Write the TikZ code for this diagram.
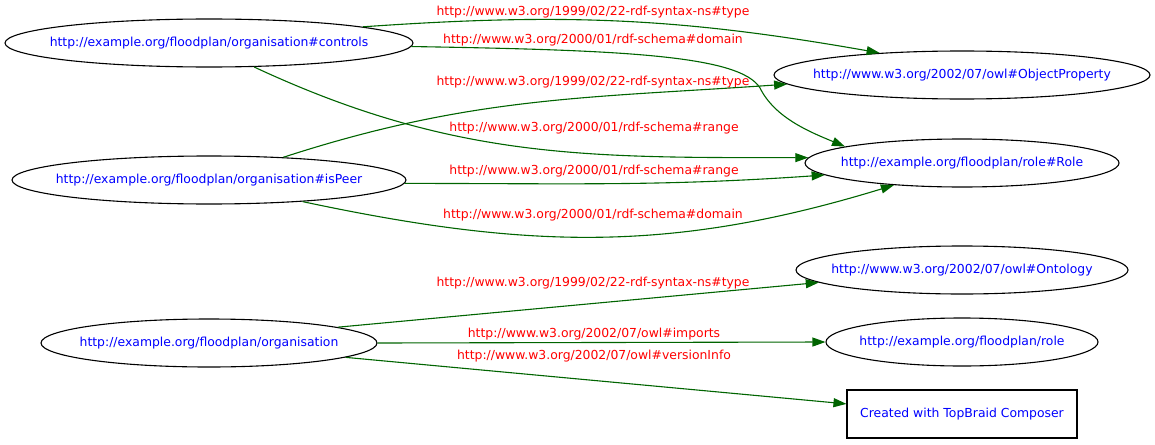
\documentclass[tikz,border=0pt]{standalone}
\usepackage{fontspec}
\setmainfont{DejaVu Sans}
\usepackage{tikz}
\usetikzlibrary{shapes, arrows.meta, positioning,
                shapes.geometric
                }
\newcommand{\uri}[1]{\makebox[0pt]{#1}}

\begin{document}
\begin{tikzpicture}[x=1pt, y=1pt,
    ent/.style={ellipse, draw=black, line width=1.1pt, inner sep=0pt, minimum height=48pt, text=blue,
                font=\fontsize{12.4}{14}\selectfont},
    lit/.style={rectangle, draw=black, line width=1.1pt, inner sep=0pt, minimum width=230pt, minimum height=48pt,
                text=blue, font=\fontsize{12.4}{14}\selectfont},
    lbl/.style={text=red, inner sep=0pt, font=\fontsize{12.4}{14}\selectfont},
    rel/.style={draw={rgb,255:red,0;green,100;blue,0}, line width=1.1pt,
                -{Triangle[length=13pt, width=9pt]}}
    ]
    \useasboundingbox (0,0) rectangle (1155,-444);
    % subjects
    \node[ent, minimum width=408pt] (ctl) at (209,-43) {\uri{http://example.org/floodplan/organisation\#controls}};
    \node[ent, minimum width=394pt] (peer) at (209,-180) {\uri{http://example.org/floodplan/organisation\#isPeer}};
    \node[ent, minimum width=336pt] (org) at (209,-343) {\uri{http://example.org/floodplan/organisation}};
    % objects
    \node[ent, minimum width=376pt] (objprop) at (962,-75) {\uri{http://www.w3.org/2002/07/owl\#ObjectProperty}};
    \node[ent, minimum width=314pt] (role) at (962,-163) {\uri{http://example.org/floodplan/role\#Role}};
    \node[ent, minimum width=332pt] (onto) at (962,-270) {\uri{http://www.w3.org/2002/07/owl\#Ontology}};
    \node[ent, minimum width=272pt] (roleont) at (962,-342) {\uri{http://example.org/floodplan/role}};
    \node[lit] (topbraid) at (962,-414) {\uri{Created with TopBraid Composer}};

    % predicates
    \node[lbl] (typeA) at (593,-12) {http://www.w3.org/1999/02/22-rdf-syntax-ns\#type};
    \node[lbl] (domainA) at (593,-40) {http://www.w3.org/2000/01/rdf-schema\#domain};
    \node[lbl] (typeB) at (593,-82) {http://www.w3.org/1999/02/22-rdf-syntax-ns\#type};
    \node[lbl] (rangeA) at (594,-128) {http://www.w3.org/2000/01/rdf-schema\#range};
    \node[lbl] (rangeB) at (594,-171) {http://www.w3.org/2000/01/rdf-schema\#range};
    \node[lbl] (domainB) at (593,-215) {http://www.w3.org/2000/01/rdf-schema\#domain};
    \node[lbl] (typeC) at (593,-283) {http://www.w3.org/1999/02/22-rdf-syntax-ns\#type};
    \node[lbl] (imports) at (594,-334) {http://www.w3.org/2002/07/owl\#imports};
    \node[lbl] (version) at (594,-356) {http://www.w3.org/2002/07/owl\#versionInfo};

    \draw[rel] (ctl.6) to[out=4, in=170] (objprop.165);
    \draw[rel] (ctl.-1) .. controls (620,-50) and (740,-55) .. (760,-88)
        .. controls (775,-118) and (810,-132) .. (role.172);
    \draw[rel] (ctl.-28) to[out=-25, in=180] (role.178);
    \draw[rel] (peer.17) to[out=18, in=184] (objprop.183);
    \draw[rel] (peer.-1) to[out=0, in=184] (role.185);
    \draw[rel] (peer.-13) to[out=-12, in=197] (role.198);
    \draw[rel] (org.7) -- (onto.185);
    \draw[rel] (org.east) -- (roleont.west);
    \draw[rel] (org.-6) -- (topbraid.175);
\end{tikzpicture}
\end{document}
